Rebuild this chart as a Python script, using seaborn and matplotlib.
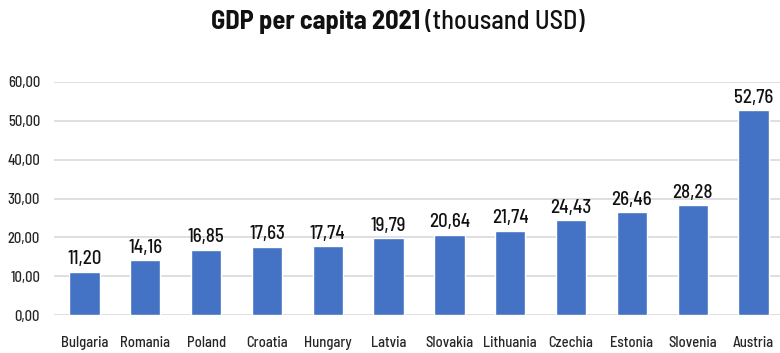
import matplotlib
matplotlib.use("Agg")
import matplotlib.pyplot as plt
import seaborn as sns

countries = ["Bulgaria", "Romania", "Poland", "Croatia", "Hungary", "Latvia",
             "Slovakia", "Lithuania", "Czechia", "Estonia", "Slovenia", "Austria"]
gdp = [11.20, 14.16, 16.85, 17.63, 17.74, 19.79, 20.64, 21.74, 24.43, 26.46, 28.28, 52.76]
yticks = [0, 10, 20, 30, 40, 50, 60]
title_bold = "GDP per capita 2021"
title_normal = " (thousand USD)"

sns.set_theme(style="white")
plt.rcParams["font.family"] = ["Barlow Semi Condensed", "DejaVu Sans"]
plt.rcParams["font.weight"] = 500

fig = plt.figure(figsize=(7.8, 3.53), dpi=100)
ax = fig.add_axes([54 / 780, 1 - 315 / 353, 730 / 780, (315 - 82) / 353])

sns.barplot(x=countries, y=gdp, color="#4472C4", saturation=1, width=0.5, ax=ax, zorder=3)

ax.set_ylim(0, 60)
ax.set_xlim(-0.5, len(countries) - 0.5)
ax.set_yticks(yticks)
ax.set_yticklabels([f"{v:.2f}".replace(".", ",") for v in yticks],
                   fontsize=10.5, color="#262626", fontweight=500)
ax.set_xticks(range(len(countries)))
ax.set_xticklabels(countries, fontsize=10.5, color="#262626", fontweight=500)
ax.tick_params(axis="y", length=0, pad=10)
ax.tick_params(axis="x", length=0, pad=15)
ax.set_xlabel("")
ax.set_ylabel("")
ax.grid(axis="y", color="#D9D9D9", linewidth=1.2, zorder=0)
ax.grid(axis="x", visible=False)
for s in ax.spines.values():
    s.set_visible(False)

ax.bar_label(ax.containers[0], labels=[f"{v:.2f}".replace(".", ",") for v in gdp],
             padding=2.5, fontsize=13.5, color="#111111", fontweight=500)

# title: bold part + normal part, centered
fig.canvas.draw()
r = fig.canvas.get_renderer()
tb = fig.text(0, 0, title_bold, fontsize=19, fontweight="bold", color="#111111")
tn = fig.text(0, 0, title_normal, fontsize=19, color="#111111", fontweight=500)
wb = tb.get_window_extent(r).width
wn = tn.get_window_extent(r).width
W = fig.bbox.width
x0 = (W - wb - wn) / 2 + 8
yt = 1 - 22 / 353
tb.set_position((x0 / W, yt)); tb.set_va("center")
tn.set_position(((x0 + wb) / W, yt)); tn.set_va("center")

fig.savefig("out.png", dpi=100)
